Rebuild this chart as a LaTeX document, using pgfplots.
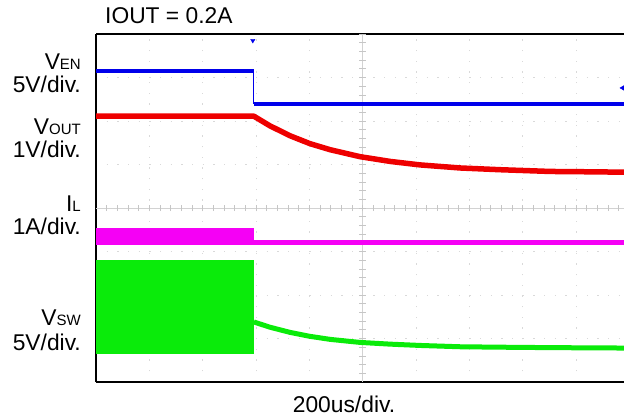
\documentclass[border=0pt]{standalone}
\usepackage{fontspec}
\setmainfont{Liberation Sans}
\usepackage{pgfplots}
\pgfplotsset{compat=1.18}

\definecolor{chEN}{RGB}{0,0,235}
\definecolor{chOUT}{RGB}{238,0,0}
\definecolor{chIL}{RGB}{245,0,245}
\definecolor{chSW}{RGB}{10,235,10}
\newcommand\sub[1]{{\fontsize{15bp}{15bp}\selectfont #1}}

\begin{document}
\fontsize{22.8bp}{27bp}\selectfont
\begin{tikzpicture}
\useasboundingbox (-96bp,-35bp) rectangle (528bp,382bp);
\begin{axis}[
    at={(0,0)}, anchor=south west,
    scale only axis,
    width=528bp, height=348bp,
    xmin=0, xmax=9.9, ymin=0, ymax=8,
    axis x line*=box, axis y line*=left,
    xtick={1,...,9}, ytick={1,...,7},
    xticklabels={}, yticklabels={},
    major tick length=0pt,
    grid=major,
    major grid style={gray!30, line width=0.8bp, dash pattern=on 1.2bp off 9.47bp},
    axis line style={line width=2bp, black},
]
% centre crosshair
\draw[gray!35, line width=0.7bp] (axis cs:5,0) -- (axis cs:5,8);
\draw[gray!35, line width=0.7bp] (axis cs:0,4) -- (axis cs:10,4);
\pgfplotsinvokeforeach{0.2,0.4,...,9.9}{
  \draw[gray!45, line width=0.7bp] (axis cs:#1,3.93) -- (axis cs:#1,4.07);
}
\pgfplotsinvokeforeach{0.2,0.4,...,7.9}{
  \draw[gray!45, line width=0.7bp] (axis cs:4.94,#1) -- (axis cs:5.06,#1);
}

% V_EN
\addplot[chEN, line width=4.5bp] coordinates {(0,7.15)(2.96,7.15)};
\addplot[chEN, line width=1bp] coordinates {(2.96,7.15)(2.96,6.39)};
\addplot[chEN, line width=4.5bp] coordinates {(2.96,6.39)(10,6.39)};
\addplot[chEN, mark=triangle*, mark size=2.5bp, mark options={rotate=180}, only marks] coordinates {(2.94,7.85)};
\addplot[chEN, mark=triangle*, mark size=3bp, mark options={rotate=90}, only marks] coordinates {(9.88,6.76)};

% V_OUT
\addplot[chOUT, line width=5.5bp, line join=round] coordinates {
  (0,6.11)(2.96,6.11)(3.26,5.89)(3.64,5.66)(4.01,5.48)(4.39,5.34)
  (4.95,5.18)(5.52,5.07)(6.08,4.99)(6.83,4.92)(7.58,4.88)
  (8.52,4.84)(9.46,4.83)(10,4.82)};

% I_L
\addplot[chIL, fill=chIL, draw=none] coordinates {
  (0,3.15)(2.96,3.15)(2.96,3.54)(0,3.54)} -- cycle;
\addplot[chIL, line width=5bp] coordinates {(2.96,3.20)(10,3.20)};

% V_SW
\addplot[chSW, fill=chSW, draw=none] coordinates {
  (0,0.64)(2.96,0.64)(2.96,2.80)(0,2.80)} -- cycle;
\addplot[chSW, line width=5bp, line join=round] coordinates {
  (2.96,1.38)(3.26,1.26)(3.64,1.14)(4.01,1.05)(4.39,0.98)
  (4.95,0.91)(5.52,0.87)(6.08,0.84)(6.83,0.81)(7.58,0.80)
  (8.52,0.79)(10,0.78)};
\end{axis}

\node[anchor=base west, inner sep=0] at (9bp,358bp) {IOUT = 0.2A};
\node[anchor=base, inner sep=0] at (248bp,-30bp) {200us/div.};

\node[anchor=base east, inner sep=0] at (-15bp,312bp) {V\sub{EN}};
\node[anchor=base east, inner sep=0] at (-15bp,289bp) {5V/div.};
\node[anchor=base east, inner sep=0] at (-15bp,247bp) {V\sub{OUT}};
\node[anchor=base east, inner sep=0] at (-15bp,224bp) {1V/div.};
\node[anchor=base east, inner sep=0] at (-15bp,170bp) {I\sub{L}};
\node[anchor=base east, inner sep=0] at (-15bp,147bp) {1A/div.};
\node[anchor=base east, inner sep=0] at (-15bp,56bp) {V\sub{SW}};
\node[anchor=base east, inner sep=0] at (-15bp,32bp) {5V/div.};
\end{tikzpicture}
\end{document}
